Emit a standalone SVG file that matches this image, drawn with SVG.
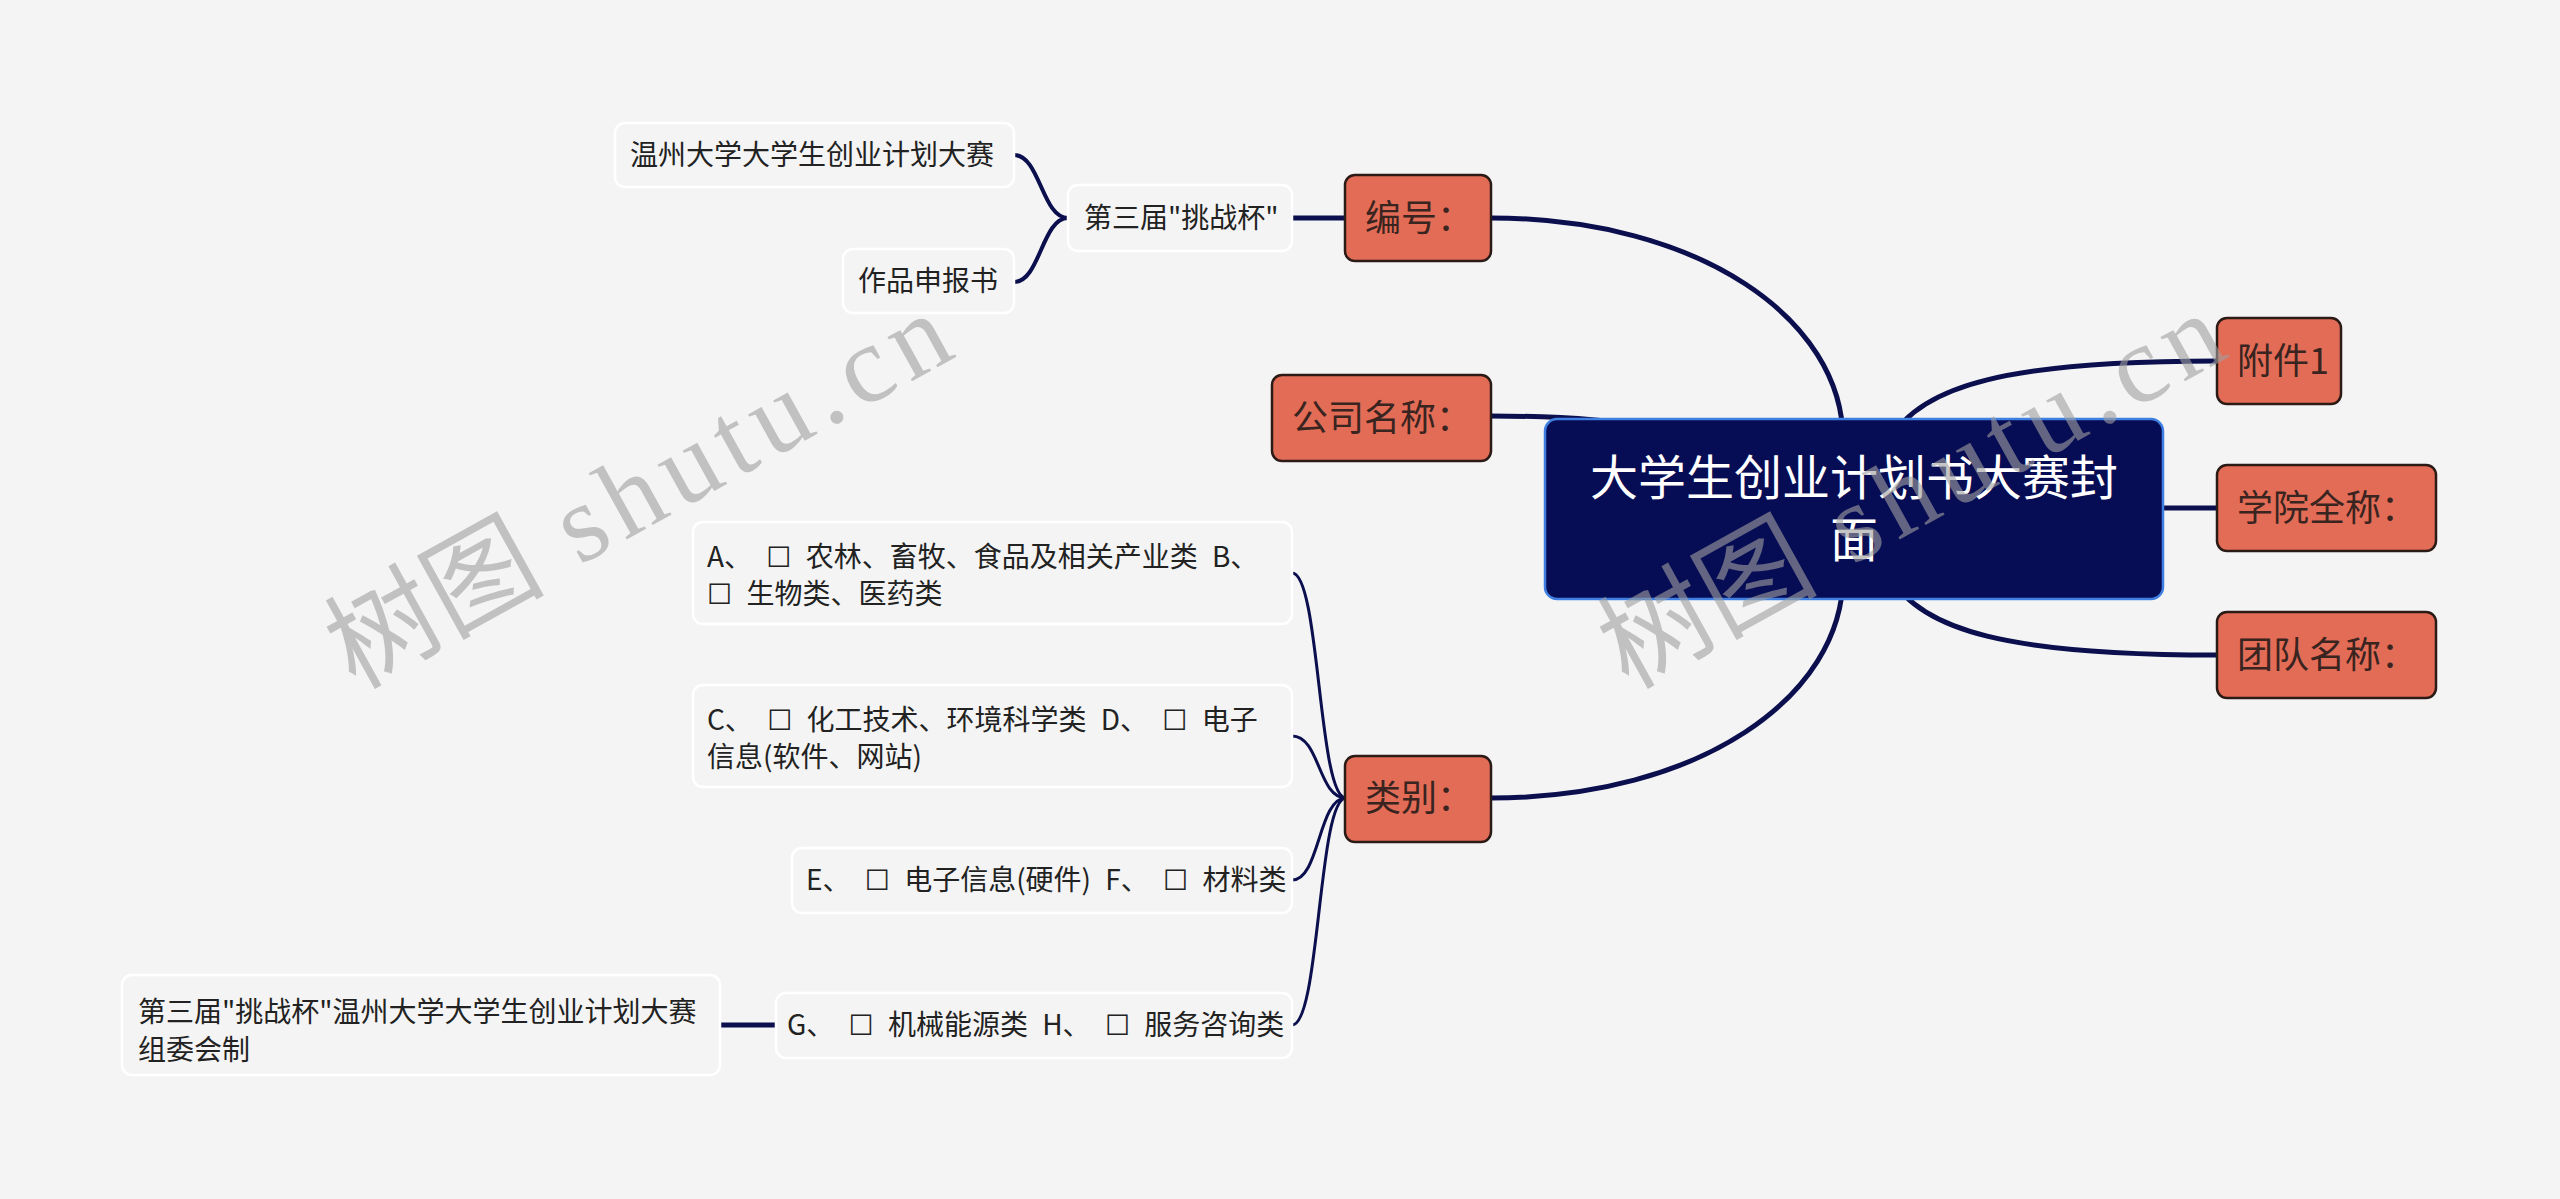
<svg xmlns="http://www.w3.org/2000/svg" width="2560" height="1199" viewBox="0 0 2560 1199">
<style>
.bg{fill:#f4f4f4}
.leaf rect{fill:#f4f4f4;stroke:#ffffff;stroke-width:2.5}
.leaf text{font-family:"Noto Sans CJK SC","Liberation Sans",sans-serif;font-size:28px;fill:#222222;word-spacing:8px}
.bx{font-family:"DejaVu Sans",sans-serif}
.main rect{fill:#e36c57;stroke:#2b1a16;stroke-width:2.5}
.main text{font-family:"Noto Sans CJK SC","Liberation Sans",sans-serif;font-size:36px;fill:#3a2420}
.root rect{fill:#070d55;stroke:#3f7fe2;stroke-width:2.5}
.root text{font-family:"Noto Sans CJK SC","Liberation Sans",sans-serif;font-size:48px;fill:#ffffff;text-anchor:middle}
.c{fill:none;stroke:#0b0f4e;stroke-linecap:round}
.w5{stroke-width:5}
.w4{stroke-width:4}
.w3{stroke-width:3}
.wm{fill:#a0a0a0;opacity:0.6;font-size:110px}
.wm .cj{font-family:"Noto Sans CJK SC",serif}
.wm .lt{font-family:"Liberation Serif",serif;letter-spacing:9px}
</style>
<rect class="bg" x="0" y="0" width="2560" height="1199"/>

<g id="connectors">
  <path class="c w5" d="M1491 218 C1700 218 1843 320 1843 440"/>
  <path class="c w5" d="M1491 798 C1700 798 1843 696 1843 576"/>
  <path class="c w5" d="M1491 416 C1570 416 1620 421 1700 432"/>
  <path class="c w5" d="M1890 440 C1920 385 2010 361 2217 361"/>
  <path class="c w5" d="M1890 576 C1920 631 2010 655 2217 655"/>
  <path class="c w5" d="M2120 508 L2217 508"/>
  <path class="c w5" d="M1292 218 L1345 218"/>
  <path class="c w4" d="M1014 155 C1040 155 1042 218 1068 218"/>
  <path class="c w4" d="M1014 282 C1040 282 1042 218 1068 218"/>
  <path class="c w3" d="M1292 573 C1320 573 1318 798 1346 798"/>
  <path class="c w3" d="M1292 736 C1320 736 1318 798 1346 798"/>
  <path class="c w3" d="M1292 880 C1320 880 1318 798 1346 798"/>
  <path class="c w3" d="M1292 1025 C1320 1025 1318 798 1346 798"/>
  <path class="c w5" d="M720 1025 L776 1025"/>
</g>

<g id="root" class="root">
  <rect x="1545" y="419" width="618" height="180" rx="12"/>
  <text x="1854" y="495">大学生创业计划书大赛封</text>
  <text x="1854" y="557">面</text>
</g>

<g id="n-bianhao" class="main">
  <rect x="1345" y="175" width="146" height="86" rx="10"/>
  <text x="1365" y="231">编号：</text>
</g>
<g id="n-gongsi" class="main">
  <rect x="1272" y="375" width="219" height="86" rx="10"/>
  <text x="1292" y="431">公司名称：</text>
</g>
<g id="n-leibie" class="main">
  <rect x="1345" y="756" width="146" height="86" rx="10"/>
  <text x="1365" y="811">类别：</text>
</g>
<g id="n-fujian" class="main">
  <rect x="2217" y="318" width="124" height="86" rx="10"/>
  <text x="2237" y="374">附件1</text>
</g>
<g id="n-xueyuan" class="main">
  <rect x="2217" y="465" width="219" height="86" rx="10"/>
  <text x="2237" y="521">学院全称：</text>
</g>
<g id="n-tuandui" class="main">
  <rect x="2217" y="612" width="219" height="86" rx="10"/>
  <text x="2237" y="668">团队名称：</text>
</g>

<g id="n-disanjie" class="leaf">
  <rect x="1068" y="185" width="224" height="66" rx="10"/>
  <text x="1084" y="228">第三届"挑战杯"</text>
</g>
<g id="n-wenzhou" class="leaf">
  <rect x="615" y="123" width="399" height="64" rx="10"/>
  <text x="630" y="165">温州大学大学生创业计划大赛</text>
</g>
<g id="n-zuopin" class="leaf">
  <rect x="843" y="249" width="171" height="64" rx="10"/>
  <text x="858" y="291">作品申报书</text>
</g>
<g id="n-ab" class="leaf">
  <rect x="693" y="522" width="599" height="102" rx="10"/>
  <text x="707" y="567">A、 <tspan class="bx">☐</tspan> 农林、畜牧、食品及相关产业类 B、</text>
  <text x="707" y="604"><tspan class="bx">☐</tspan> 生物类、医药类</text>
</g>
<g id="n-cd" class="leaf">
  <rect x="693" y="685" width="599" height="102" rx="10"/>
  <text x="707" y="730">C、 <tspan class="bx">☐</tspan> 化工技术、环境科学类 D、 <tspan class="bx">☐</tspan> 电子</text>
  <text x="707" y="767">信息(软件、网站)</text>
</g>
<g id="n-ef" class="leaf">
  <rect x="792" y="848" width="500" height="65" rx="10"/>
  <text x="806" y="890">E、 <tspan class="bx">☐</tspan> 电子信息(硬件) F、 <tspan class="bx">☐</tspan> 材料类</text>
</g>
<g id="n-gh" class="leaf">
  <rect x="776" y="993" width="516" height="65" rx="10"/>
  <text x="787" y="1035">G、 <tspan class="bx">☐</tspan> 机械能源类 H、 <tspan class="bx">☐</tspan> 服务咨询类</text>
</g>
<g id="n-zuwei" class="leaf">
  <rect x="122" y="975" width="598" height="100" rx="10"/>
  <text x="138" y="1022">第三届"挑战杯"温州大学大学生创业计划大赛</text>
  <text x="138" y="1060">组委会制</text>
</g>

<g id="watermark">
  <text class="wm" transform="translate(355 690) rotate(-29)"><tspan class="cj">树图</tspan><tspan class="lt"> shutu.cn</tspan></text>
  <text class="wm" transform="translate(1628 690) rotate(-29)"><tspan class="cj">树图</tspan><tspan class="lt"> shutu.cn</tspan></text>
</g>
</svg>
